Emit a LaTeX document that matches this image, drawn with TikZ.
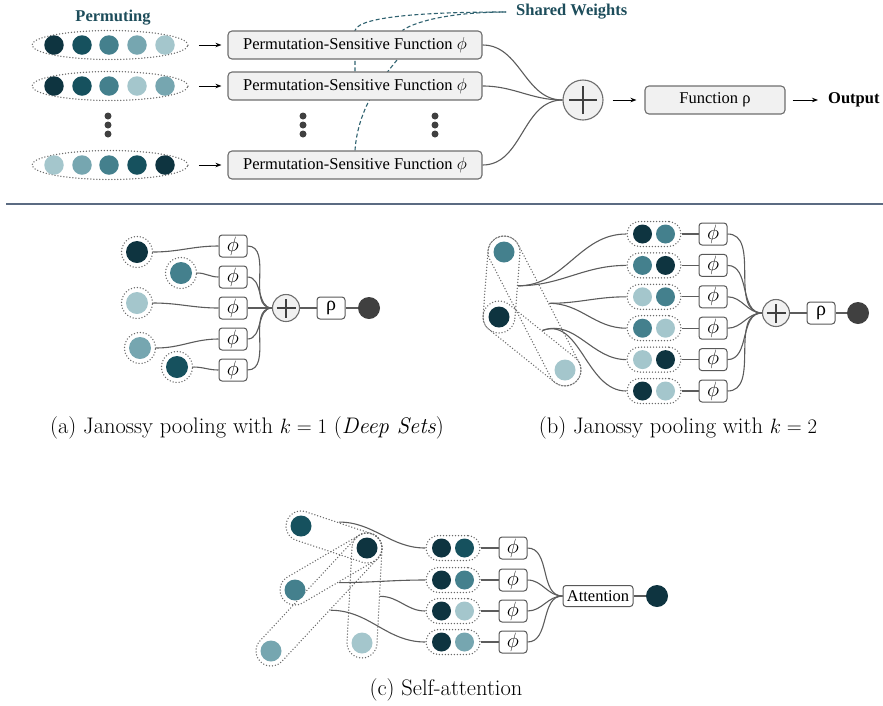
\documentclass[tikz,border=0pt]{standalone}
\usepackage[no-math]{fontspec}
\newfontfamily\tms{Liberation Serif}
\usetikzlibrary{calc,shapes.geometric,arrows.meta}
\pgfdeclarelayer{bg}
\pgfsetlayers{bg,main}
\definecolor{cA}{HTML}{0E3440}
\definecolor{cB}{HTML}{16515E}
\definecolor{cC}{HTML}{44808D}
\definecolor{cD}{HTML}{76A6B0}
\definecolor{cE}{HTML}{A4C6CC}
\definecolor{outg}{HTML}{404040}
\definecolor{tealtxt}{HTML}{1D4D5B}
\definecolor{dashc}{HTML}{2F6270}
\definecolor{linec}{HTML}{5C5C5C}
\definecolor{sepc}{HTML}{5B6B82}
\definecolor{boxfill}{HTML}{F1F1F1}
\definecolor{boxdraw}{HTML}{6E6E6E}
\definecolor{dotc}{HTML}{6A6A6A}
\newcommand\topfont{\tms\fontsize{16.5}{19}\selectfont}
\newcommand\capsl[4]{%
  \path let \p1=($(#3)-(#2)$), \n1={atan2(\y1,\x1)}, \n2={veclen(\x1,\y1)} in
    node[dotring, rounded corners=#4pt, minimum width={(\n2+2*#4)*1pt},
         minimum height={2*#4*1pt}, rotate=\n1] (#1) at ($(#2)!0.5!(#3)$) {};}
\newcommand\ringball[3]{%
  \node[ring] (#1) at (#2) {};
  \node[ball, fill=#3] (#1b) at (#2) {};}
\newcommand\pairnode[4]{%
  \node[pairc] (#1) at (#2) {};
  \node[pball, fill=#3] (#1l) at ($(#1)+(-11.5,0)$) {};
  \node[pball, fill=#4] (#1r) at ($(#1)+(11.5,0)$) {};}
\begin{document}
\begin{tikzpicture}[x=1pt,y=-1pt,
  conn/.style={draw=linec, line width=1.1pt},
  arr/.style={draw=black, line width=0.9pt, -{Stealth[length=6pt,width=4.5pt]}},
  bigbox/.style={draw=boxdraw, fill=boxfill, rounded corners=4pt, minimum width=254pt,
     minimum height=28pt, inner sep=0pt, line width=1.1pt, font=\topfont},
  fbox/.style={draw=boxdraw!80!black, fill=white, rounded corners=3pt, minimum width=28pt,
     minimum height=22pt, inner sep=0pt, line width=1pt, font={\fontsize{20}{20}\selectfont}},
  dotring/.style={draw=dotc, line width=1.5pt, dash pattern=on 0pt off 3pt, line cap=round, inner sep=0pt},
  ring/.style={dotring, circle, minimum size=31pt},
  ellrow/.style={dotring, ellipse, minimum width=156pt, minimum height=29pt},
  ball/.style={circle, minimum size=22pt, inner sep=0pt},
  tball/.style={circle, minimum size=19.5pt, inner sep=0pt},
  pball/.style={circle, minimum size=19pt, inner sep=0pt},
  pairc/.style={dotring, rounded corners=12.5pt, minimum width=54pt, minimum height=25pt},
  dotn/.style={circle, fill=outg, minimum size=7pt, inner sep=0pt},
  pluspic/.style={path picture={\draw[draw=outg, line width=1.4pt]
     ([xshift=-#1]path picture bounding box.center) -- ([xshift=#1]path picture bounding box.center)
     ([yshift=-#1]path picture bounding box.center) -- ([yshift=#1]path picture bounding box.center);}},
  bigplus/.style={circle, draw=boxdraw, fill=boxfill, line width=1.1pt, inner sep=0pt, minimum size=40pt, pluspic=14pt},
  smallplus/.style={circle, draw=boxdraw, fill=boxfill, line width=1.1pt, inner sep=0pt, minimum size=27pt, pluspic=9.5pt},
  captext/.style={font={\fontsize{22.5}{26}\selectfont}},
  boldtxt/.style={font={\tms\bfseries\fontsize{16.5}{19}\selectfont}}
]
\useasboundingbox (0,0) rectangle (883,705);

% ---------------- top part ----------------
\node[boldtxt, text=tealtxt] (perm) at (113,18) {Permuting};
\node[ellrow] (e1) at (110,45) {};
\node[ellrow] (e2) at (110,86) {};
\node[ellrow] (e3) at (110,165) {};
\foreach \x/\c [count=\i] in {54/cA,82/cB,109/cC,137/cD,165/cE}
  \node[tball, fill=\c] (ra\i) at (\x,45) {};
\foreach \x/\c [count=\i] in {54/cA,82/cB,109/cC,137/cE,165/cD}
  \node[tball, fill=\c] (rb\i) at (\x,86) {};
\foreach \x/\c [count=\i] in {54/cE,82/cD,109/cC,137/cB,165/cA}
  \node[tball, fill=\c] (rc\i) at (\x,165) {};
\foreach \x/\n in {108/a,303/b,435/c}
  \foreach \y/\m in {116/1,125/2,134/3}
    \node[dotn] (dot\n\m) at (\x,\y) {};

\node[bigbox] (b1) at (355,45) {Permutation-Sensitive Function $\phi$};
\node[bigbox] (b2) at (355,86) {Permutation-Sensitive Function $\phi$};
\node[bigbox] (b3) at (355,165) {Permutation-Sensitive Function $\phi$};
\node[bigplus] (p0) at (583,100) {};
\node[bigbox, minimum width=140pt] (fr) at (715,100) {Function ρ};
\node[boldtxt, anchor=west, inner sep=0pt] (outp) at (828,100) {Output};
\node[boldtxt, text=tealtxt, anchor=west, inner sep=0pt] (shw) at (516,12) {Shared Weights};
\coordinate (sw) at (506,12);

\foreach \i in {1,2,3} \draw[arr, shorten <=10pt, shorten >=6pt] (e\i.east) -- (b\i.west);
\foreach \b in {b1,b2,b3} \draw[conn] (\b.east) to[out=0,in=180] (p0.west);
\draw[arr, shorten <=9pt, shorten >=8pt] (p0.east) -- (fr.west);
\draw[arr, shorten <=7pt, shorten >=10pt] (fr.east) -- (outp.west);

\begin{pgfonlayer}{bg}
\draw[dashc, line width=1.1pt, dash pattern=on 4pt off 2.5pt]
  (b2.north) -- ++(0,-41) .. controls +(4,-16) and +(-60,0) .. (sw);
\draw[dashc, line width=1.1pt, dash pattern=on 4pt off 2.5pt]
  (b3.north) .. controls +(3,-45) and +(-12,15) .. (397,60) -- (403,30)
  .. controls +(15,-10) and +(-50,0) .. (sw);
\end{pgfonlayer}

\draw[sepc, line width=2pt] (6,204) -- (883,204);

% ---------------- (a) ----------------
\ringball{a1}{137,252}{cA}
\ringball{a2}{181,273}{cC}
\ringball{a3}{137,303}{cE}
\ringball{a4}{140,348}{cD}
\ringball{a5}{177,367}{cB}
\foreach \y [count=\i] in {246,277,308,339,370}
  \node[fbox] (af\i) at (233,\y) {$\phi$};
\node[smallplus] (ap) at (286,308) {};
\node[fbox] (arho) at (331,308) {\tms ρ};
\node[ball, fill=outg] (aout) at (369,308) {};
\foreach \i in {1,...,5} {
  \draw[conn] (a\i.east) to[out=0,in=180] (af\i.west);
  \draw[conn] (af\i.east) to[out=0,in=180] (ap.west);
}
\draw[conn] (ap) -- (arho);
\draw[conn] (arho) -- (aout);

% ---------------- (b) ----------------
\coordinate (bA) at (504,252);
\coordinate (bB) at (499,317);
\coordinate (bC) at (565,370);
\capsl{kAB}{bA}{bB}{16}
\capsl{kAC}{bA}{bC}{16}
\capsl{kBC}{bB}{bC}{16}
\node[ball, minimum size=21pt, fill=cC] (bAn) at (bA) {};
\node[ball, minimum size=21pt, fill=cA] (bBn) at (bB) {};
\node[ball, minimum size=21pt, fill=cE] (bCn) at (bC) {};
\pairnode{bq1}{654,234}{cA}{cC}
\pairnode{bq2}{654,265.4}{cC}{cA}
\pairnode{bq3}{654,296.8}{cE}{cC}
\pairnode{bq4}{654,328.2}{cC}{cE}
\pairnode{bq5}{654,359.6}{cE}{cA}
\pairnode{bq6}{654,391}{cA}{cE}
\foreach \y [count=\i] in {234,265.4,296.8,328.2,359.6,391}
  \node[fbox] (bf\i) at (713,\y) {$\phi$};
\node[smallplus] (bplus) at (776,313) {};
\node[fbox] (brho) at (821,313) {\tms ρ};
\node[ball, fill=outg] (bout) at (858,313) {};
\draw[conn] (kAB.north) to[out=0,in=180] (bq1.west);
\draw[conn] (kAB.north) to[out=0,in=180] (bq2.west);
\draw[conn] (kAC.north) to[out=0,in=180] (bq3.west);
\draw[conn] (kAC.north) to[out=0,in=180] (bq4.west);
\draw[conn] (kBC.north) to[out=20,in=180] (bq5.west);
\draw[conn] (kBC.north) to[out=20,in=180] (bq6.west);
\foreach \i in {1,...,6} {
  \draw[conn] (bq\i.east) -- (bf\i.west);
  \draw[conn] (bf\i.east) to[out=0,in=180] (bplus.west);
}
\draw[conn] (bplus) -- (brho);
\draw[conn] (brho) -- (bout);

% ---------------- (c) ----------------
\coordinate (cP) at (301,526);
\coordinate (cQ) at (367,548);
\coordinate (cR) at (295,590);
\coordinate (cS) at (271,651);
\coordinate (cT) at (362,643);
\capsl{kPQ}{cP}{cQ}{15}
\capsl{kRQ}{cR}{cQ}{15}
\capsl{kSQ}{cS}{cQ}{15}
\capsl{kTQ}{cT}{cQ}{15}
\node[ball, minimum size=21pt, fill=cB] (cPn) at (cP) {};
\node[ball, minimum size=21pt, fill=cA] (cQn) at (cQ) {};
\node[ball, minimum size=21pt, fill=cC] (cRn) at (cR) {};
\node[ball, minimum size=21pt, fill=cD] (cSn) at (cS) {};
\node[ball, minimum size=21pt, fill=cE] (cTn) at (cT) {};
\pairnode{cq1}{453,548}{cA}{cB}
\pairnode{cq2}{453,580}{cA}{cC}
\pairnode{cq3}{453,611}{cA}{cE}
\pairnode{cq4}{453,642}{cA}{cD}
\foreach \y [count=\i] in {548,580,611,642}
  \node[fbox] (cf\i) at (513,\y) {$\phi$};
\node[fbox, font=\topfont, minimum width=70pt, minimum height=21pt] (att) at (598,596) {Attention};
\node[ball, fill=cA] (cout) at (657,596) {};
\draw[conn] (kPQ.north) to[out=0,in=180] (cq1.west);
\draw[conn] (kRQ.south) to[out=0,in=180] (cq2.west);
\draw[conn] (kTQ.south) to[out=0,in=180] (cq3.west);
\draw[conn] (kSQ.south) to[out=0,in=180] (cq4.west);
\foreach \i in {1,...,4} {
  \draw[conn] (cq\i.east) -- (cf\i.west);
  \draw[conn] (cf\i.east) to[out=0,in=180] (att.west);
}
\draw[conn] (att) -- (cout);

% ---------------- captions ----------------
\node[captext] (capa) at (247,428) {(a) Janossy pooling with $k=1$ (\textit{Deep Sets})};
\node[captext] (capb) at (678,428) {(b) Janossy pooling with $k=2$};
\node[captext] (capc) at (446,690) {(c) Self-attention};
\end{tikzpicture}
\end{document}
